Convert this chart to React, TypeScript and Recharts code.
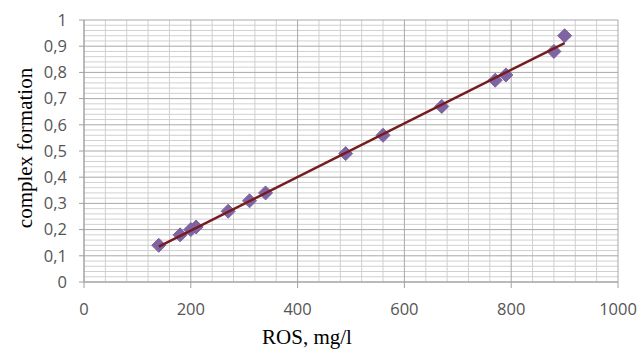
import { ScatterChart, Scatter, XAxis, YAxis, CartesianGrid, Label } from "recharts";

// measured points (ROS mg/l -> complex formation)
const rosValues = [140, 180, 200, 210, 270, 310, 340, 490, 560, 670, 770, 790, 880, 900];
const complexValues = [0.14, 0.18, 0.2, 0.21, 0.27, 0.31, 0.34, 0.49, 0.56, 0.67, 0.77, 0.79, 0.88, 0.94];

// linear trend line end points
const trendRos = [140, 900];
const trendComplex = [0.135, 0.912];

const xTicks = [0, 200, 400, 600, 800, 1000];
const yTicks = [0, 0.1, 0.2, 0.3, 0.4, 0.5, 0.6, 0.7, 0.8, 0.9, 1];

// minor grid: 5 steps inside every major interval
const subdivide = (ticks: number[]) => {
  const out: number[] = [];
  for (let i = 0; i < ticks.length - 1; i++) {
    const step = (ticks[i + 1] - ticks[i]) / 5;
    for (let k = 1; k < 5; k++) out.push(ticks[i] + step * k);
  }
  return out;
};
const xMinor = subdivide(xTicks);
const yMinor = subdivide(yTicks);

const points = rosValues.map((x, i) => ({ x, y: complexValues[i] }));
const trend = trendRos.map((x, i) => ({ x, y: trendComplex[i] }));

const tickStyle = { fill: "#555555", fontSize: 16.5, fontFamily: "'Open Sans', sans-serif" };
const labelFont = "'Liberation Serif', 'Times New Roman', serif";

const applyScale = (axis: any, v: number) => {
  const s = axis && axis.scale;
  if (typeof s === "function") return s(v);
  if (s && typeof s.map === "function") return s.map(v);
  return 0;
};

const Diamond = (props: any) => {
  const { cx, cy } = props;
  if (cx == null || cy == null) return <g />;
  const r = 7;
  return (
    <polygon
      points={`${cx},${cy - r} ${cx + r},${cy} ${cx},${cy + r} ${cx - r},${cy}`}
      fill="#8064A2"
      stroke="#7a63a0"
      strokeWidth={1}
    />
  );
};

const YTitle = (props: any) => {
  const vb = props.viewBox || {};
  const cy = vb.y + vb.height / 2 - 3;
  return (
    <text
      transform={`translate(${vb.x + 32}, ${cy}) rotate(-90)`}
      textAnchor="middle"
      fontFamily={labelFont}
      fontSize={21}
      fill="#000"
    >
      complex formation
    </text>
  );
};

const XTitle = (props: any) => {
  const vb = props.viewBox || {};
  return (
    <text
      x={vb.x + vb.width / 2 - 44}
      y={vb.y + vb.height - 5}
      textAnchor="middle"
      fontFamily={labelFont}
      fontSize={21}
      fill="#000"
    >
      ROS, mg/l
    </text>
  );
};

export default function App() {
  return (
    <div style={{ position: "absolute", left: 0, top: 0, background: "#fff" }}>
      <ScatterChart width={641} height={349} margin={{ top: 20, right: 23, bottom: 0, left: 0 }}>
        <CartesianGrid
          stroke="#d0d0d0"
          verticalCoordinatesGenerator={({ xAxis }: any) => xMinor.map((v) => applyScale(xAxis, v))}
          horizontalCoordinatesGenerator={({ yAxis }: any) => yMinor.map((v) => applyScale(yAxis, v))}
        />
        <CartesianGrid stroke="#a9a9a9" />
        <XAxis
          type="number"
          dataKey="x"
          domain={[0, 1000]}
          ticks={xTicks}
          height={67}
          tickSize={6}
          tickMargin={15}
          tick={tickStyle}
          tickLine={{ stroke: "#a0a0a0" }}
          axisLine={{ stroke: "#a0a0a0" }}
          interval={0}
        >
          <Label content={<XTitle />} />
        </XAxis>
        <YAxis
          type="number"
          dataKey="y"
          domain={[0, 1]}
          ticks={yTicks}
          width={84}
          tickSize={5}
          tickMargin={12}
          tick={tickStyle}
          tickLine={{ stroke: "#a0a0a0" }}
          axisLine={{ stroke: "#a0a0a0" }}
          interval={0}
          tickFormatter={(v: number) => String(v).replace(".", ",")}
        >
          <Label content={<YTitle />} />
        </YAxis>
        <Scatter data={points} shape={<Diamond />} isAnimationActive={false} />
        <Scatter
          data={trend}
          line={{ stroke: "#741c1f", strokeWidth: 2.5 }}
          lineType="joint"
          shape={() => <g />}
          isAnimationActive={false}
        />
      </ScatterChart>
    </div>
  );
}
